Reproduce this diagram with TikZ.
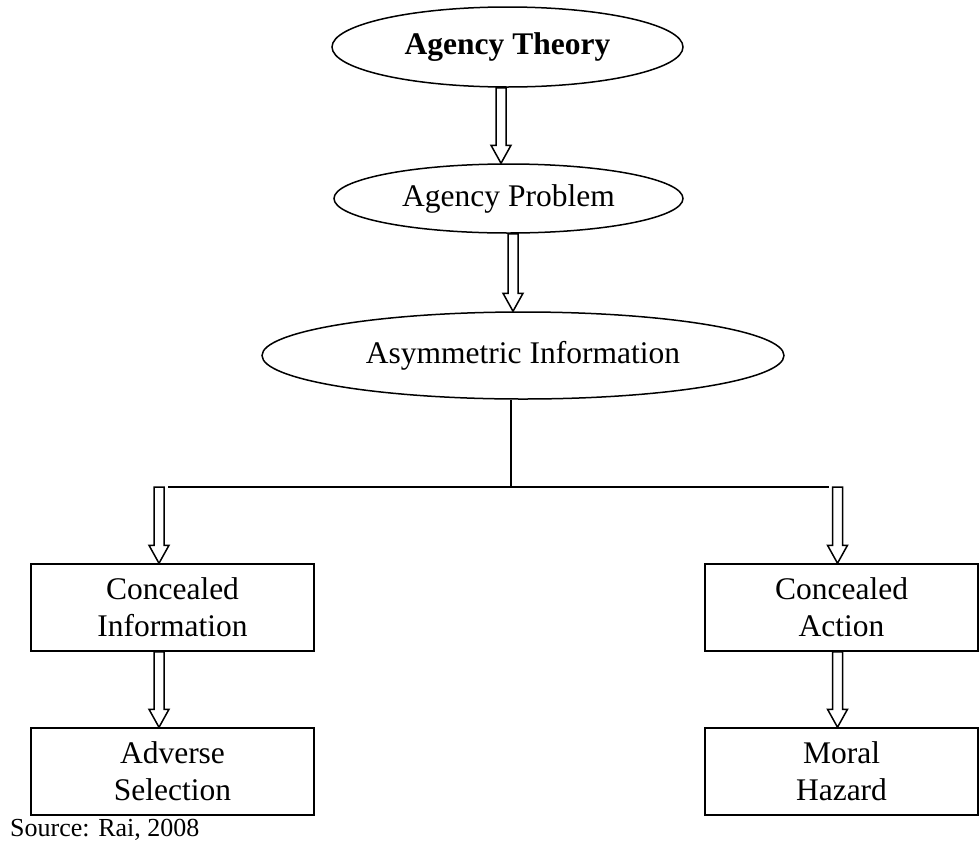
\documentclass[tikz,border=0pt]{standalone}
\usepackage{fontspec}
\setmainfont{Liberation Serif}
\usetikzlibrary{shapes.geometric,calc}

\tikzset{
  oval/.style={draw, ellipse, line width=1.5pt, inner sep=0pt,
    font=\fontsize{31.5}{36}\selectfont},
  card/.style={draw, rectangle, line width=1.5pt, inner sep=0pt, align=center,
    font=\fontsize{31.5}{37}\selectfont},
  hollow/.style={draw, line width=1.5pt, fill=white, line join=miter},
  link/.style={draw, line width=1.5pt}
}

% hollow block arrow: #1 horizontal offset from the start anchor, #2 start, #3 target (tip)
\newcommand\blockarrow[3]{%
  \path[hollow] let \p1=($(#2)+(#1,0)$), \p2=(#3) in
    (\x1-5pt,\y1) -- (\x1+5pt,\y1) -- (\x1+5pt,\y2+18pt) -- (\x1+10pt,\y2+18pt)
    -- (\x1,\y2) -- (\x1-10pt,\y2+18pt) -- (\x1-5pt,\y2+18pt) -- cycle;}

\begin{document}
\begin{tikzpicture}[x=1pt,y=-1pt]
  \useasboundingbox (0,0) rectangle (979,841);

  % chain of ovals
  \node[oval, minimum width=351pt, minimum height=80pt] (theory) at (507.5,47)
    {\textbf{Agency Theory}};
  \node[oval, minimum width=349pt, minimum height=69pt] (problem) at (508.5,198.5)
    {Agency Problem};
  \node[oval, minimum width=522pt, minimum height=87pt] (asym) at (523,355.5)
    {Asymmetric Information};

  % the two branches
  \node[card, minimum width=283pt, minimum height=87pt] (ci) at (172.5,607.5)
    {Concealed\\Information};
  \node[card, minimum width=283pt, minimum height=87pt] (as) at (172.5,771.5)
    {Adverse\\Selection};
  \node[card, minimum width=273pt, minimum height=87pt] (ca) at (841.5,607.5)
    {Concealed\\Action};
  \node[card, minimum width=273pt, minimum height=87pt] (mh) at (841.5,771.5)
    {Moral\\Hazard};

  % split under the last oval
  \coordinate (j) at (511,487);
  \coordinate (jl) at (159,487);
  \coordinate (jr) at (837.5,487);
  \draw[link] (asym.south -| j) -- (j);
  \draw[link] ([xshift=9pt]jl) -- ([xshift=-9pt]jr);

  % arrows
  \blockarrow{-6.5}{theory.south}{problem.north}
  \blockarrow{4.5}{problem.south}{asym.north}
  \blockarrow{0}{jl}{ci.north}
  \blockarrow{0}{jr}{ca.north}
  \blockarrow{-13.5}{ci.south}{as.north}
  \blockarrow{-4}{ca.south}{mh.north}

  % source line
  \node[anchor=base west, inner sep=0pt, font=\fontsize{26}{30}\selectfont]
    (src) at (10,836) {Source: Rai, 2008};
\end{tikzpicture}
\end{document}
